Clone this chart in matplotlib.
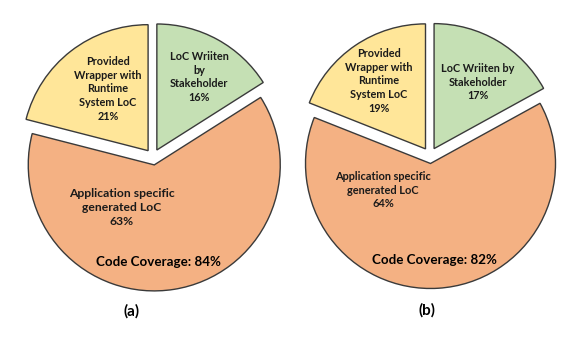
import matplotlib
matplotlib.use("Agg")
import matplotlib.pyplot as plt

plt.rcParams['font.family'] = ['Lato', 'DejaVu Sans']

# slices go clockwise from 12 o'clock: stakeholder, generated, wrapper
names_a = ["LoC Wriiten\nby\nStakeholder", "Application specific\ngenerated LoC",
           "Provided\nWrapper with\nRuntime\nSystem LoC"]
names_b = ["LoC Wriiten by\nStakeholder", "Application specific\ngenerated LoC",
           "Provided\nWrapper with\nRuntime\nSystem LoC"]
share_a = [16, 63, 21]
share_b = [17, 64, 19]
coverage = [84, 82]
panels = ["(a)", "(b)"]

colors = ["#C5E0B4", "#F4B183", "#FFE699"]

W, H = 582, 346
fig = plt.figure(figsize=(W / 100, H / 100), dpi=100)
ax = fig.add_axes([0, 0, 1, 1])


def py(y):
    # pixel row (top down) -> data y (bottom up)
    return H - y


def draw(share, names, cov, tag, cx, cy, r, lab_pos, cov_pos, tag_pos, gen_fs, gen_ls):
    ax.pie(share, colors=colors, startangle=90, counterclock=False,
           explode=[8, 8, 8], radius=r, center=(cx, py(cy)),
           wedgeprops=dict(edgecolor="#3a3a3a", linewidth=1.0))
    for i, (name, val) in enumerate(zip(names, share)):
        x, y = lab_pos[i]
        fs, ls = (gen_fs, gen_ls) if i == 1 else (7.8, 1.3)
        ax.text(x, py(y), name + "\n" + str(val) + "%", ha="center", va="top",
                fontsize=fs, linespacing=ls, fontweight="bold", color="#1a1a1a")
    ax.text(cov_pos[0], py(cov_pos[1]), "Code Coverage: " + str(cov) + "%",
            ha="center", va="center", fontsize=9.6, fontweight="bold", color="black")
    ax.text(tag_pos[0], py(tag_pos[1]), tag, ha="center", va="center",
            fontsize=11, fontweight="bold", color="black")


draw(share_a, names_a, coverage[0], panels[0], 153, 157, 126,
     [(199, 51), (122, 188), (108, 56)], (158, 262), (132, 311), 8.7, 1.35)
draw(share_b, names_b, coverage[1], panels[1], 430, 155.5, 125,
     [(478, 63), (383, 171), (379, 48)], (434, 260), (427, 310), 7.9, 1.3)

ax.set_xlim(0, W)
ax.set_ylim(0, H)
ax.set_aspect("equal")
ax.axis("off")

fig.savefig("out.png", dpi=100)
